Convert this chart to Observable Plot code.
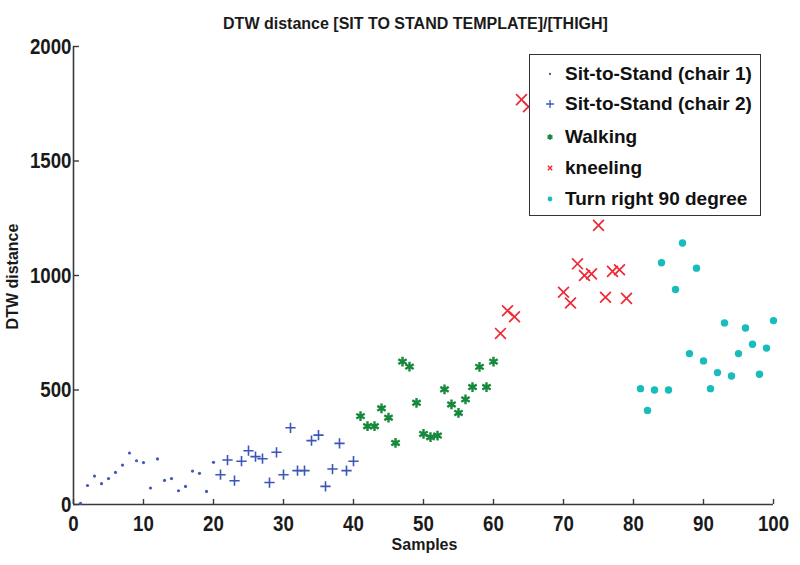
<!DOCTYPE html>
<html>
<head>
<meta charset="utf-8">
<script src="https://cdn.jsdelivr.net/npm/d3@7"></script>
<script src="https://cdn.jsdelivr.net/npm/@observablehq/plot@0.6"></script>
<style>
  html, body { margin: 0; padding: 0; background: #fff; }
  #wrap { position: relative; width: 800px; height: 565px; overflow: hidden; }
  #legend {
    position: absolute; left: 529px; top: 54px; width: 232px; height: 162px;
    border: 1.5px solid #333; background: #fff; box-sizing: border-box;
    font-family: "Liberation Sans", Arial, sans-serif; font-weight: bold; font-size: 19px; color: #111;
  }
  #legend .row { position: absolute; left: 0; height: 26px; display: flex; align-items: center; white-space: nowrap; }
  #legend svg { width: 30px; height: 26px; margin-left: 5px; margin-right: 0px; }
</style>
</head>
<body>
<div id="wrap">
  <div id="chart"></div>
  <div id="legend"></div>
</div>
<script>
// ---- data ----
const titleText = "DTW distance [SIT TO STAND TEMPLATE]/[THIGH]";
const xLabel = "Samples";
const yLabel = "DTW distance";
const seriesNames = ["Sit-to-Stand (chair 1)", "Sit-to-Stand (chair 2)", "Walking", "kneeling", "Turn right 90 degree"];
const seriesColors = ["#4358b8", "#3a56b8", "#17893c", "#ee2a35", "#17bcbc"];

const xTicks = [0, 10, 20, 30, 40, 50, 60, 70, 80, 90, 100];
const yTicks = [0, 500, 1000, 1500, 2000];

const chair1X = [1, 2, 3, 4, 5, 6, 7, 8, 9, 10, 11, 12, 13, 14, 15, 16, 17, 18, 19, 20];
const chair1Y = [5, 83, 124, 91, 113, 140, 172, 225, 191, 183, 72, 199, 105, 113, 60, 79, 146, 136, 57, 184];

const chair2X = [21, 22, 23, 24, 25, 26, 27, 28, 29, 30, 31, 32, 33, 34, 35, 36, 37, 38, 39, 40];
const chair2Y = [130, 194, 104, 189, 235, 209, 200, 96, 228, 130, 335, 148, 148, 279, 303, 79, 155, 267, 148, 189];

const walkX = [41, 42, 43, 44, 45, 46, 47, 48, 49, 50, 51, 52, 53, 54, 55, 56, 57, 58, 59, 60];
const walkY = [386, 342, 342, 420, 379, 269, 624, 602, 444, 308, 294, 301, 503, 437, 400, 459, 513, 601, 513, 624];

const kneelX = [61, 62, 63, 64, 65, 70, 71, 72, 73, 74, 75, 76, 77, 78, 79];
const kneelY = [747, 846, 820, 1768, 1737, 927, 880, 1051, 1000, 1007, 1219, 905, 1018, 1025, 900];

const turnX = [81, 82, 83, 84, 85, 86, 87, 88, 89, 90, 91, 92, 93, 94, 95, 96, 97, 98, 99, 100];
const turnY = [506, 411, 500, 1056, 500, 939, 1142, 659, 1032, 627, 506, 576, 793, 561, 659, 771, 700, 569, 683, 803];

// ---- build tables ----
const toRows = (xs, ys) => xs.map((x, i) => ({x, y: ys[i]}));
const chair1 = toRows(chair1X, chair1Y);
const chair2 = toRows(chair2X, chair2Y);
const walk = toRows(walkX, walkY);
const kneel = toRows(kneelX, kneelY);
const turn = toRows(turnX, turnY);

const font = "'Liberation Sans', Arial, sans-serif";
const axisColor = "#3a3a3a";

const chart = Plot.plot({
  width: 800,
  height: 565,
  marginLeft: 73,
  marginRight: 27,
  marginTop: 46,
  marginBottom: 61,
  style: {background: "#fff", color: "#1a1a1a", fontFamily: font},
  x: {domain: [0, 100]},
  y: {domain: [0, 2000]},
  marks: [
    Plot.ruleY([0], {stroke: axisColor, strokeWidth: 1.6}),
    Plot.ruleX([0], {stroke: axisColor, strokeWidth: 1.6}),
    Plot.axisX({ticks: xTicks, tickFormat: d => String(d), tickSize: -5, tickPadding: 16, label: null,
      fontSize: 22, fontWeight: "bold", fontFamily: font, stroke: axisColor, strokeWidth: 1.4}),
    Plot.axisY({ticks: yTicks, tickFormat: d => String(d), tickSize: -6, tickPadding: 8, label: null,
      fontSize: 22, fontWeight: "bold", fontFamily: font, stroke: axisColor, strokeWidth: 1.4}),
    Plot.dot(chair1, {x: "x", y: "y", r: 1.6, fill: seriesColors[0], symbol: "circle"}),
    Plot.dot(chair2, {x: "x", y: "y", r: 3.4, stroke: seriesColors[1], strokeWidth: 1.6, symbol: "plus"}),
    Plot.dot(walk, {x: "x", y: "y", r: 4.6, stroke: seriesColors[2], strokeWidth: 2.4, symbol: "asterisk"}),
    Plot.dot(kneel, {x: "x", y: "y", r: 5, stroke: seriesColors[3], strokeWidth: 1.7, symbol: "times"}),
    Plot.dot(turn, {x: "x", y: "y", r: 3.7, fill: seriesColors[4], symbol: "circle"}),
    Plot.text([titleText], {frameAnchor: "top", dx: -8, dy: -29, fontSize: 16, fontWeight: "bold", fill: "#1a1a1a", ariaLabel: "title"}),
    Plot.text([xLabel], {frameAnchor: "bottom", dx: 1, dy: 45, fontSize: 16, fontWeight: "bold", fill: "#1a1a1a", ariaLabel: "xlabel"}),
    Plot.text([yLabel], {frameAnchor: "left", textAnchor: "middle", dx: -61, dy: 1, rotate: -90, fontSize: 16, fontWeight: "bold", fill: "#1a1a1a", ariaLabel: "ylabel"})
  ]
});
document.getElementById("chart").appendChild(chart);

// condensed look of the original (narrow bold face): squeeze glyphs horizontally
function condense(selector, k) {
  chart.querySelectorAll(selector).forEach(t => {
    const len = t.getComputedTextLength();
    t.setAttribute("textLength", (len * k).toFixed(1));
    t.setAttribute("lengthAdjust", "spacingAndGlyphs");
  });
}
condense('g[aria-label="x-axis tick label"] text', 0.85);
condense('g[aria-label="y-axis tick label"] text', 0.85);
condense('g[aria-label="title"] text', 0.9);
condense('g[aria-label="xlabel"] text', 0.9);

// ---- legend (HTML, with d3 symbols) ----
const legendSymbols = [
  {type: d3.symbolCircle, size: 4, fill: true, w: 0},
  {type: d3.symbolPlus, size: 22, fill: false, w: 1.3},
  {type: d3.symbolAsterisk, size: 22, fill: false, w: 1.8},
  {type: d3.symbolTimes, size: 14, fill: false, w: 1.5},
  {type: d3.symbolCircle, size: 18, fill: true, w: 0}
];
const rowTops = [6, 36, 69, 100, 131];
const legend = d3.select("#legend");
seriesNames.forEach((name, i) => {
  const row = legend.append("div").attr("class", "row").style("top", rowTops[i] + "px");
  const s = row.append("svg").attr("viewBox", "-15 -13 30 26");
  const sym = legendSymbols[i];
  s.append("path")
    .attr("d", d3.symbol(sym.type, sym.size)())
    .attr("fill", sym.fill ? seriesColors[i] : "none")
    .attr("stroke", sym.fill ? "none" : seriesColors[i])
    .attr("stroke-width", sym.w);
  row.append("span").text(name);
});
</script>
</body>
</html>
